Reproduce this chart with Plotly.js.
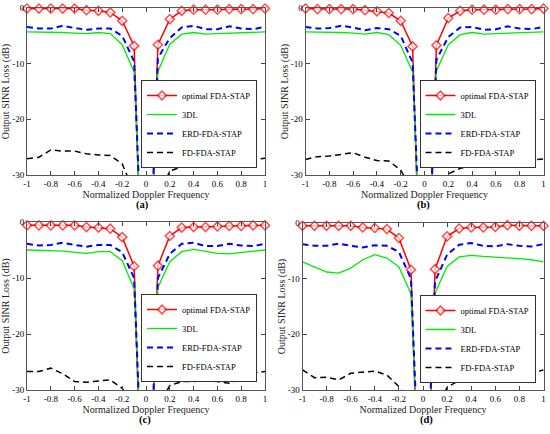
<!DOCTYPE html>
<html>
<head>
<meta charset="utf-8">
<script src="https://cdn.plot.ly/plotly-3.0.1.min.js"></script>
<style>html,body{margin:0;padding:0;background:#fff;}#chart{width:550px;height:434px;}</style>
</head>
<body>
<div id="chart"></div>
<script>
// Normalized Doppler frequency samples
const doppler = [-1,-0.9,-0.8,-0.7,-0.6,-0.5,-0.4,-0.3,-0.2,-0.1,0,0.1,0.2,0.3,0.4,0.5,0.6,0.7,0.8,0.9,1];

const seriesNames = ['optimal FDA-STAP','3DL','ERD-FDA-STAP','FD-FDA-STAP'];
const panelLabels = ['(a)','(b)','(c)','(d)'];

const xTickVals = [-1,-0.8,-0.6,-0.4,-0.2,0,0.2,0.4,0.6,0.8,1];
const xTickText = ['-1','-0.8','-0.6','-0.4','-0.2','0','0.2','0.4','0.6','0.8','1'];
const yTickVals = [0,-10,-20,-30];
const yTickText = ['0','-10','-20','-30'];

// Panel (a)
const optA = [-0.1,-0.1,-0.1,-0.1,-0.1,-0.4,-0.5,-0.8,-2.3,-6.8,-75,-6.6,-2.0,-0.5,-0.3,-0.3,-0.3,-0.2,-0.2,-0.2,-0.1];
const dlA  = [-4.3,-4.3,-4.4,-4.4,-4.5,-4.6,-4.4,-4.6,-6.6,-11.5,-62,-11.4,-6.5,-4.7,-4.4,-4.7,-4.6,-4.5,-4.4,-4.3,-4.3];
const erdA = [-3.4,-3.7,-3.7,-3.2,-3.6,-3.9,-3.7,-3.7,-5.0,-9.6,-64,-9.0,-5.4,-3.5,-3.2,-3.8,-3.8,-3.3,-3.7,-3.8,-3.4];
const fdA  = [-27.1,-26.8,-25.5,-25.7,-25.7,-26.2,-26.4,-26.5,-28.0,-33,-80,-34,-29.3,-28.5,-28.0,-27.8,-27.8,-27.5,-27.5,-27.2,-27.0];

// Panel (b)
const optB = [-0.1,-0.2,-0.2,-0.2,-0.2,-0.4,-0.6,-0.9,-2.3,-6.9,-75,-6.7,-1.8,-0.5,-0.3,-0.3,-0.3,-0.2,-0.2,-0.2,-0.1];
const dlB  = [-4.3,-4.3,-4.3,-4.4,-4.5,-4.7,-4.4,-4.8,-6.7,-11.5,-62,-11.3,-6.6,-4.8,-4.4,-4.7,-4.6,-4.5,-4.4,-4.4,-4.3];
const erdB = [-3.4,-3.7,-3.6,-3.2,-3.5,-4.0,-3.6,-3.8,-5.0,-9.8,-64,-9.3,-5.2,-3.5,-3.4,-3.9,-3.8,-3.3,-3.7,-3.8,-3.4];
const fdB  = [-27.2,-26.7,-26.6,-26.3,-26.0,-26.8,-27.4,-27.5,-29.1,-33,-80,-34,-29.8,-28.8,-28.3,-28.0,-27.8,-27.6,-27.4,-27.2,-27.1];

// Panel (c)
const optC = [-0.6,-0.6,-0.6,-0.6,-0.6,-0.9,-1.0,-1.2,-2.7,-7.9,-75,-7.8,-2.5,-1.0,-0.9,-0.9,-0.8,-0.7,-0.7,-0.6,-0.6];
const dlC  = [-5.0,-5.0,-5.1,-5.2,-5.4,-5.6,-5.3,-5.3,-6.9,-11.9,-62,-11.7,-7.1,-5.3,-4.9,-5.3,-5.6,-5.7,-5.4,-5.2,-5.0];
const erdC = [-3.9,-4.2,-4.1,-3.7,-4.1,-4.4,-4.1,-4.1,-5.4,-10.0,-64,-10.0,-5.7,-3.9,-3.7,-4.3,-4.3,-3.9,-4.2,-4.3,-3.9];
const fdC  = [-26.7,-26.7,-26.1,-27.1,-28.5,-28.6,-28.4,-28.2,-29.7,-33,-80,-33,-29.2,-28.5,-28.5,-28.3,-28.5,-28.8,-28.0,-27.0,-26.7];

// Panel (d)
const optD = [-0.5,-0.5,-0.5,-0.5,-0.5,-0.8,-0.9,-1.1,-2.7,-8.4,-75,-8.3,-2.4,-1.0,-0.8,-0.8,-0.7,-0.4,-0.5,-0.5,-0.5];
const dlD  = [-7.0,-7.9,-8.8,-9.0,-8.1,-6.6,-5.7,-6.3,-7.9,-12.7,-62,-12.6,-7.8,-6.1,-5.8,-6.0,-6.1,-6.3,-6.4,-6.6,-7.0];
const erdD = [-3.8,-4.1,-4.1,-3.7,-4.1,-4.4,-4.0,-4.1,-5.2,-10.0,-64,-10.5,-5.7,-3.9,-3.6,-4.1,-4.2,-3.8,-4.1,-4.2,-3.8];
const fdD  = [-26.4,-27.8,-27.7,-28.2,-27.0,-26.8,-26.6,-27.3,-29.4,-33,-80,-34,-29.5,-28.3,-28.0,-27.7,-27.5,-27.4,-27.2,-26.9,-26.4];

const panels = [
  [optA, dlA, erdA, fdA],
  [optB, dlB, erdB, fdB],
  [optC, dlC, erdC, fdC],
  [optD, dlD, erdD, fdD]
];

const W = 550, H = 434;
const FONT = 'Liberation Serif, Times New Roman, serif';
const yMin = -30, yMax = 0;

// pixel boxes of each subplot [left, right, top, bottom]
const boxes = [
  [27, 265, 8, 175],
  [305.5, 543.5, 8, 175],
  [27, 265, 222, 390],
  [302.5, 543.5, 223, 390]
];
const legendBottoms = [168, 168, 382, 383];
const legendRightGap = 8;
const labelPos = [[142, 205], [423, 205], [145, 420], [426, 420]];

const styles = [
  {color: '#ff0000', width: 1.5, dash: 'solid', marker: true},
  {color: '#00ee00', width: 1.3, dash: 'solid', marker: false},
  {color: '#0000ff', width: 2, dash: '6px,4px', marker: false},
  {color: '#000000', width: 1.5, dash: '6px,4px', marker: false}
];

const traces = [];
const layout = {
  width: W, height: H,
  margin: {l: 0, r: 0, t: 0, b: 0},
  paper_bgcolor: '#ffffff',
  plot_bgcolor: '#ffffff',
  font: {family: FONT, size: 9, color: '#000'},
  showlegend: true,
  annotations: []
};

panels.forEach((series, p) => {
  const suffix = p === 0 ? '' : String(p + 1);
  const xa = 'x' + suffix, ya = 'y' + suffix;
  const legendId = 'legend' + suffix;
  series.forEach((vals, s) => {
    const st = styles[s];
    const tr = {
      type: 'scatter',
      x: doppler,
      y: vals,
      xaxis: xa, yaxis: ya,
      name: seriesNames[s],
      legend: legendId,
      mode: st.marker ? 'lines+markers' : 'lines',
      line: {color: st.color, width: st.width, dash: st.dash},
      hoverinfo: 'x+y+name'
    };
    if (st.marker) {
      tr.cliponaxis = false;
      tr.marker = {
        symbol: 'diamond',
        size: vals.map(v => (v < yMin ? 0 : 7)),
        color: '#ffffff',
        line: {color: st.color, width: 1.5}
      };
    }
    traces.push(tr);
  });

  const b = boxes[p];
  layout['xaxis' + suffix] = {
    domain: [b[0] / W, b[1] / W],
    anchor: ya,
    range: [-1, 1],
    tickvals: xTickVals, ticktext: xTickText,
    ticks: 'inside', ticklen: 4, tickcolor: '#444',
    showline: true, linecolor: '#555', linewidth: 1, mirror: 'ticks',
    showgrid: false, zeroline: false,
    tickfont: {family: FONT, size: 9, color: '#000'},
    title: {text: 'Normalized Doppler Frequency', font: {family: FONT, size: 10, color: '#222'}, standoff: 3},
    automargin: false,
    fixedrange: true
  };
  layout['yaxis' + suffix] = {
    domain: [1 - b[3] / H, 1 - b[2] / H],
    anchor: xa,
    range: [yMin, yMax],
    tickvals: yTickVals, ticktext: yTickText,
    ticks: 'inside', ticklen: 4, tickcolor: '#444',
    showline: true, linecolor: '#555', linewidth: 1, mirror: 'ticks',
    showgrid: false, zeroline: false,
    tickfont: {family: FONT, size: 9, color: '#000'},
    title: {text: 'Output SINR Loss (dB)', font: {family: FONT, size: 10, color: '#222'}, standoff: 0},
    automargin: false,
    fixedrange: true
  };
  layout[legendId] = {
    x: (b[1] - legendRightGap) / W, xanchor: 'right',
    y: 1 - legendBottoms[p] / H, yanchor: 'bottom',
    bgcolor: '#ffffff', bordercolor: '#333', borderwidth: 1,
    font: {family: FONT, size: 8.5, color: '#000'},
    itemwidth: 30,
    tracegroupgap: 0
  };
  layout.annotations.push({
    xref: 'paper', yref: 'paper',
    x: labelPos[p][0] / W, y: 1 - labelPos[p][1] / H,
    xanchor: 'center', yanchor: 'middle',
    text: '<b>' + panelLabels[p] + '</b>',
    showarrow: false,
    font: {family: FONT, size: 10.5, color: '#000'}
  });
});

Plotly.newPlot('chart', traces, layout, {displayModeBar: false, staticPlot: false});
</script>
</body>
</html>
